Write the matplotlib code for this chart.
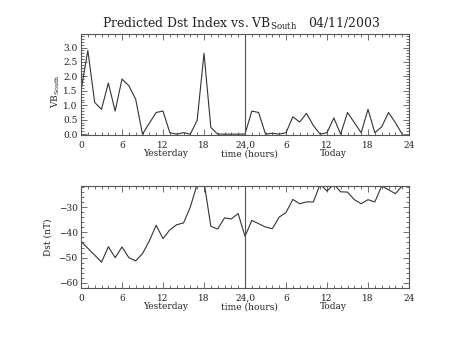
import numpy as np
import matplotlib
matplotlib.use("Agg")
import matplotlib.pyplot as plt
from matplotlib.ticker import MultipleLocator, FixedLocator, FixedFormatter

plt.rcParams["font.family"] = "DejaVu Serif"
plt.rcParams["mathtext.fontset"] = "dejavuserif"

# ---------- Data (hourly, yesterday 0-23, today 24-47) ----------
hours = np.arange(48)
vb_south = [1.5, 2.9, 1.1, 0.86, 1.77, 0.8, 1.91, 1.68, 1.21, 0.0,
            0.38, 0.75, 0.8, 0.05, 0.0, 0.05, 0.0, 0.48, 2.8, 0.23,
            0.0, 0.0, 0.0, 0.0, 0.0, 0.8, 0.75, 0.0, 0.03, 0.0,
            0.05, 0.6, 0.42, 0.72, 0.3, 0.0, 0.05, 0.56, 0.0, 0.75,
            0.4, 0.05, 0.86, 0.05, 0.25, 0.75, 0.4, 0.0]
dst = [-43.6, -46.3, -49.0, -51.8, -45.7, -50.0, -45.8, -50.0, -51.3, -48.4,
       -43.4, -37.2, -42.5, -39.0, -37.0, -36.3, -30.0, -21.0, -20.0, -37.6,
       -38.7, -34.3, -34.7, -32.6, -41.6, -35.3, -36.6, -37.9, -38.6, -34.0,
       -32.2, -27.0, -28.7, -28.0, -28.0, -21.0, -23.7, -21.0, -24.0, -24.1,
       -27.1, -28.7, -27.1, -28.0, -21.7, -23.2, -24.7, -21.7]

xtick_pos = [0, 6, 12, 18, 24, 30, 36, 42, 48]
xtick_lab = ["0", "6", "12", "18", "24,0", "6", "12", "18", "24"]

LINE = "#333333"
AXC = "#555555"
TXT = "#222222"
FS = 6.5
W, H = 453.0, 340.0


def style_axes(ax):
    for s in ax.spines.values():
        s.set_color(AXC)
        s.set_linewidth(0.8)
    ax.set_xlim(0, 48)
    ax.xaxis.set_major_locator(FixedLocator(xtick_pos))
    ax.xaxis.set_major_formatter(FixedFormatter(xtick_lab))
    ax.xaxis.set_minor_locator(MultipleLocator(1))
    ax.tick_params(which="both", direction="in", top=True, right=True,
                   colors=AXC, labelcolor=TXT, labelsize=FS, width=0.6)
    ax.tick_params(which="major", length=4)
    ax.tick_params(axis="x", which="major", pad=4)
    ax.tick_params(axis="y", which="major", pad=2.5)
    ax.tick_params(which="minor", length=2)
    ax.axvline(24, color=AXC, lw=0.8)
    tr = ax.get_xaxis_transform()
    for xpos, txt in [(12.4, "Yesterday"), (24.6, "time (hours)"), (37.0, "Today")]:
        ax.text(xpos, -0.21, txt, transform=tr, ha="center", va="baseline",
                fontsize=FS, color=TXT)


fig = plt.figure(figsize=(4.53, 3.40), dpi=100)
ax1 = fig.add_axes([81 / W, 1 - 135 / H, 328 / W, 101 / H])
ax2 = fig.add_axes([81 / W, 1 - 288 / H, 328 / W, 102 / H])

ax1.plot(hours, vb_south, color=LINE, lw=0.8)
style_axes(ax1)
ax1.set_ylim(-0.03, 3.47)
ax1.yaxis.set_major_locator(MultipleLocator(0.5))
ax1.yaxis.set_minor_locator(MultipleLocator(0.1))
ax1.yaxis.set_major_formatter(plt.FormatStrFormatter("%.1f"))

ax2.plot(hours, dst, color=LINE, lw=0.8)
style_axes(ax2)
ax2.set_ylim(-62, -21.7)
ax2.yaxis.set_major_locator(MultipleLocator(10))
ax2.yaxis.set_minor_locator(MultipleLocator(2))

# axis titles, placed like the IDL output
fig.text(56 / W, 1 - 91 / H, r"VB$_{\mathrm{South}}$", rotation=90,
         ha="center", va="center", fontsize=FS, color=TXT)
fig.text(48 / W, 1 - 237 / H, "Dst (nT)", rotation=90,
         ha="center", va="center", fontsize=FS, color=TXT)

fig.text(241.5 / W, 1 - 24 / H,
         r"Predicted Dst Index vs. VB$_{\mathrm{South}}$   04/11/2003",
         ha="center", va="center", fontsize=8.9, color=TXT)

fig.savefig("out.png", dpi=100)
